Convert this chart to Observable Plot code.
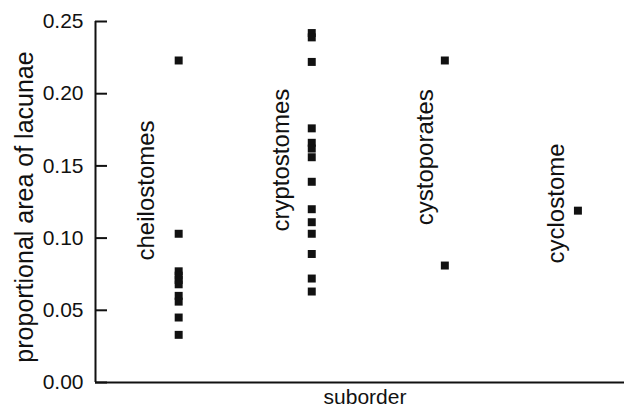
<!DOCTYPE html>
<html><head><meta charset="utf-8">
<script src="https://cdn.jsdelivr.net/npm/d3@7"></script>
<script src="https://cdn.jsdelivr.net/npm/@observablehq/plot@0.6"></script>
<style>html,body{margin:0;padding:0;background:#fff} svg{display:block}</style>
</head><body><div id="chart"></div>
<script>
// Categories and values (proportional area of lacunae)
const suborders = ["cheilostomes", "cryptostomes", "cystoporates", "cyclostome"];
const cheilostomes = [0.223, 0.103, 0.077, 0.074, 0.071, 0.068, 0.060, 0.056, 0.045, 0.033];
const cryptostomes = [0.242, 0.239, 0.222, 0.176, 0.166, 0.162, 0.156, 0.139, 0.120, 0.111, 0.103, 0.089, 0.072, 0.063];
const cystoporates = [0.223, 0.081];
const cyclostome = [0.119];
const yTicks = [0, 0.05, 0.10, 0.15, 0.20, 0.25];

// label placement (layout, not data)
const labelAt = [0.133, 0.154, 0.156, 0.124];
const labelShift = [-32, -30, -20, -22];

const series = [cheilostomes, cryptostomes, cystoporates, cyclostome];
const rows = suborders.flatMap((s, i) => series[i].map(v => ({suborder: s, pos: i + 1, value: v})));
const labels = suborders.map((s, i) => ({label: s, pos: i + 1, at: labelAt[i]}));

const ink = "#111";
const W = 624, H = 412, ML = 95, MR = 0, MT = 21, MB = 30;

const plot = Plot.plot({
  width: W, height: H,
  marginLeft: ML, marginRight: MR, marginTop: MT, marginBottom: MB,
  style: {fontFamily: "'Liberation Sans', Arial, Helvetica, sans-serif", fontSize: "20px", color: ink, background: "#fff"},
  x: {domain: [0.375, 4.35], axis: null},
  y: {domain: [0, 0.25]},
  marks: [
    Plot.ruleY([0], {stroke: ink, strokeWidth: 2}),
    Plot.ruleX([0.375], {y1: 0, y2: 0.25, stroke: ink, strokeWidth: 2}),
    Plot.tickY(yTicks, {y: d => d, insetRight: W - ML - MR - 12, stroke: ink, strokeWidth: 2}),
    Plot.axisY(yTicks, {tickSize: 0, tickPadding: 12, tickFormat: d3.format(".2f"), fontSize: 21, fill: ink, label: null}),
    Plot.dot(rows, {x: "pos", y: "value", symbol: "square", r: 4.5, fill: ink, stroke: null}),
    ...labels.map((d, i) => Plot.text([d], {x: "pos", y: "at", text: "label", rotate: -90, dx: labelShift[i], fontSize: 24, fill: ink})),
    Plot.text(["suborder"], {frameAnchor: "bottom", textAnchor: "middle", dy: 21, dx: 5, fontSize: 21, fill: ink}),
    Plot.text(["proportional area of lacunae"], {frameAnchor: "left", textAnchor: "middle", rotate: -90, dx: -71, dy: 5, fontSize: 25, fill: ink})
  ]
});
document.getElementById("chart").append(plot);
</script>
</body></html>
